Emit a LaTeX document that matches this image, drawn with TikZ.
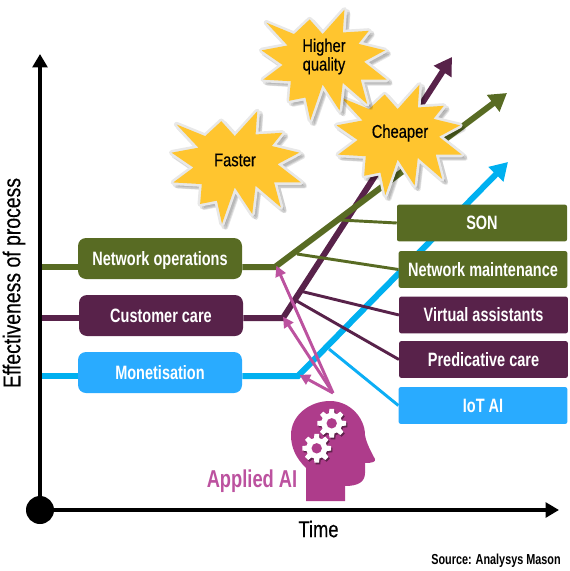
\documentclass[tikz,border=0pt]{standalone}
\usepackage{fontspec}
\setmainfont[FakeStretch=0.8]{Liberation Sans}
\newfontfamily\boxfont[FakeStretch=0.75]{Liberation Sans}
\newfontfamily\medfont[FakeStretch=0.8,FakeBold=0.35]{Liberation Sans}
\usetikzlibrary{arrows.meta,backgrounds}
\definecolor{leafgreen}{HTML}{586B23}
\definecolor{plum}{HTML}{58224A}
\definecolor{boxblue}{HTML}{29ABFF}
\definecolor{lineblue}{HTML}{00B0F0}
\definecolor{aimag}{HTML}{AE3C8B}
\definecolor{ailine}{HTML}{BC529F}
\definecolor{burst}{HTML}{FFC52F}
\tikzset{
  px/.style={x=0.75pt,y=-0.75pt},
  level/.style={rounded corners=6pt,minimum width=123pt,minimum height=30.75pt,inner sep=0pt,text=white,text height=10.4pt,text depth=0pt,font=\boxfont\fontsize{14.5}{16}\selectfont\bfseries},
  tool/.style={rounded corners=1.5pt,minimum width=126.5pt,minimum height=27.5pt,inner sep=0pt,text=white,text height=10.4pt,text depth=0pt,font=\boxfont\fontsize{14.5}{16}\selectfont\bfseries},
  thick line/.style={line width=4.5pt},
  thin line/.style={line width=2.2pt},
  growth/.style={line width=4.5pt,line join=miter,-{Triangle[length=13pt,width=15pt]}},
  ailink/.style={color=ailine,line width=2.2pt,-{Triangle[length=8pt,width=8pt]}},
  axis/.style={line width=3.2pt,-{Triangle[length=10pt,width=11pt]}},
  burst label/.style={font=\medfont\fontsize{13.8}{14}\selectfont,align=center,text=black,inner sep=0pt},
}
\newcommand{\burstpath}{(45,65)--(130,100)--(178,55)--(218,100)--(285,25)--(280,95)--(360,90)--(328,130)--(410,150)--(345,185)--(415,240)--(335,240)--(355,315)--(280,250)--(270,335)--(218,255)--(180,365)--(165,295)--(115,305)--(120,245)--(35,240)--(95,195)--(30,150)--(110,135)--cycle}
\newcommand{\drawburst}[4]{%
  \begin{scope}[shift={(#1,#2)},xscale=#3,yscale=#4]
    \foreach \d/\w in {2.5/4.5,4/3}{
      \begin{scope}[shift={(\d/#3,\d/#4)}]
        \fill[black,opacity=0.1,draw=black,draw opacity=0.1,line width=\w pt,line join=round] \burstpath;
      \end{scope}}
    \filldraw[draw=black!9,fill=black!9,line width=4pt,line join=round] \burstpath;
    \fill[burst] \burstpath;
  \end{scope}}
\newcommand{\gearshape}[3]{%
  \begin{scope}[shift={(#1,#2)}]
    \fill[#3] (0:14)
      \foreach \a in {0,45,...,315}{
        -- (\a-9:14.5) -- (\a+9:14.5) -- (\a+15:10.5) -- (\a+30:10.5) -- (\a+36:14.5)
      } -- cycle;
  \end{scope}}
\begin{document}
\begin{tikzpicture}[px]
\useasboundingbox (0,0) rectangle (569,571);

% level boxes
\node[level,fill=leafgreen] (netops) at (160,258.5) {Network operations};
\node[level,fill=plum] (care) at (161,315.5) {Customer care};
\node[level,fill=boxblue] (money) at (160,372.5) {Monetisation};
% tool boxes
\node[tool,fill=leafgreen,minimum width=127.5pt] (son) at (482,223) {SON};
\node[tool,fill=leafgreen] (maint) at (483,269.5) {Network maintenance};
\node[tool,fill=plum] (assist) at (483.5,315) {Virtual assistants};
\node[tool,fill=plum] (predict) at (483.5,359.5) {Predicative care};
\node[tool,fill=boxblue] (iot) at (483,405.5) {IoT AI};

% named points
\coordinate (origin) at (40,510);
\coordinate (ytop) at (40,54);
\coordinate (xend) at (559,510);
\coordinate (gstart) at (40,267);
\coordinate (pstart) at (40,318);
\coordinate (bstart) at (40,376);
\coordinate (gknee) at (275,267);
\coordinate (pknee) at (283,318);
\coordinate (bknee) at (298,376);
\coordinate (gtip) at (507,93);
\coordinate (ptip) at (452,57);
\coordinate (btip) at (508,162);
\coordinate (json) at (340,220);
\coordinate (jmaint) at (297,254);
\coordinate (jassist) at (300,291);
\coordinate (jpredict) at (295,300);
\coordinate (jiot) at (329,349);
\coordinate (aisrc) at (333,393);

\begin{scope}[on background layer]
  \draw[thick line,lineblue] (bstart) -- (bstart -| money.west);
  \draw[growth,lineblue] (bstart -| money.east) -- (bknee) -- (btip);
  \draw[thick line,leafgreen] (gstart) -- (gstart -| netops.west);
  \draw[thick line,plum] (pstart) -- (pstart -| care.west);
  \draw[growth,plum] (pstart -| care.east) -- (pknee) -- (ptip);
  \draw[growth,leafgreen] (gstart -| netops.east) -- (gknee) -- (gtip);
  \draw[thin line,lineblue!70!boxblue] (jiot) -- (iot.west);
  \draw[thin line,plum] (jpredict) -- (predict.west);
  \draw[thin line,plum] (jassist) -- (assist.west);
  \draw[thin line,leafgreen] (jmaint) -- (maint.west);
  \draw[thin line,leafgreen] (json) -- (son.west);
\end{scope}

% applied AI links
\draw[ailink] (aisrc) -- ([xshift=1,yshift=1]gknee);
\draw[ailink] (aisrc) -- ([yshift=1]pknee);
\draw[ailink] (aisrc) -- ([xshift=1,yshift=1]bknee);

% axes
\draw[axis] (origin) -- (ytop);
\draw[axis] (origin) -- (xend);
\fill[black] (origin) circle (14);

% bursts
\drawburst{326.8}{76.6}{0.325}{0.325}
\drawburst{251.8}{1.6}{0.325}{0.325}
\drawburst{161.5}{103}{0.336}{0.331}
\node[burst label] (faster) at (235,160) {Faster};
\node[burst label] (higher) at (324,56.5) {Higher\\[0pt]quality};
\node[burst label] (cheaper) at (400,133) {Cheaper};

% head
\fill[aimag] (306,501) -- (306,468) .. controls (296,458) and (291,448) .. (291,435) .. controls (291,415) and (310,401) .. (330,401) .. controls (350,401) and (365,418) .. (365,435) .. controls (366,442) and (371,452) .. (375,459) .. controls (376,462) and (372,463) .. (365,463) -- (365,473) .. controls (365,482) and (358,486) .. (345,486) -- (345,501) -- cycle;
\gearshape{333}{425}{black!45!aimag}
\gearshape{318}{450}{black!45!aimag}
\gearshape{331.7}{423.3}{white}
\gearshape{316.7}{448.3}{white}
\fill[aimag] (331.7,423.3) circle (5.2);
\fill[aimag] (316.7,448.3) circle (5.2);

% texts
\node[text=ailine,font=\boxfont\fontsize{18.3}{20}\selectfont\bfseries,inner sep=0pt] (applied) at (252,481) {Applied AI};
\node[font=\medfont\fontsize{17.2}{18}\selectfont,inner sep=0pt] (time) at (318.5,529) {Time};
\node[font=\medfont\fontsize{18.2}{18}\selectfont,rotate=90,inner sep=0pt] (effect) at (14,283) {Effectiveness of process};
\node[font=\boxfont\fontsize{10.85}{12}\selectfont\bfseries,anchor=east,inner sep=0pt] (source) at (561,561) {Source: Analysys Mason};
\end{tikzpicture}
\end{document}
